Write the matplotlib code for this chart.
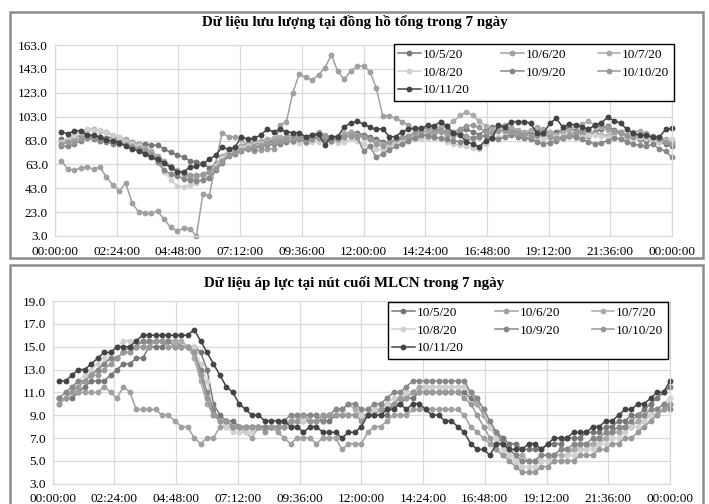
import matplotlib
matplotlib.use("Agg")
import matplotlib.pyplot as plt
from matplotlib.patches import Rectangle
import numpy as np

plt.rcParams['font.family'] = ['Liberation Serif', 'DejaVu Serif']

# 15-minute readings, 00:15 .. 24:00
days = ["10/5/20", "10/6/20", "10/7/20", "10/8/20", "10/9/20", "10/10/20", "10/11/20"]
colors = ["#777777", "#a0a0a0", "#aaaaaa", "#d0d0d0", "#888888", "#999999", "#444444"]

x_tick_labels = ["00:00:00", "02:24:00", "04:48:00", "07:12:00", "09:36:00", "12:00:00",
                 "14:24:00", "16:48:00", "19:12:00", "21:36:00", "00:00:00"]

# ---- flow at the main meter ----
flow_title = "Dữ liệu lưu lượng tại đồng hồ tổng trong 7 ngày"
flow_ticks = [3.0, 23.0, 43.0, 63.0, 83.0, 103.0, 123.0, 143.0, 163.0]

flow_1005 = [84, 83, 86, 87, 88, 86, 86, 85, 86, 84, 83, 82,
             80, 80, 79, 79, 76, 73, 71, 69, 66, 65, 64, 60,
             63, 68, 72, 75, 78, 80, 81, 80, 82, 83, 85, 86,
             88, 87, 85, 86, 88, 87, 85, 86, 88, 90, 89, 88,
             86, 84, 82, 80, 83, 84, 86, 85, 87, 88, 90, 92,
             90, 88, 91, 93, 90, 88, 92, 94, 95, 93, 92, 90,
             88, 90, 93, 91, 89, 90, 92, 94, 91, 89, 87, 90,
             93, 95, 92, 90, 88, 86, 84, 83, 84, 82, 80, 78]
flow_1006 = [66.1, 58.8, 58.3, 59.7, 61.0, 58.8, 61.0, 52.1, 45.7, 40.9, 47.1, 30.9,
             23.1, 22.5, 22.5, 23.6, 16.9, 10.2, 7.4, 9.4, 9.1, 3.0, 38.2, 36.8,
             64.0, 89.5, 86.0, 86.0, 84.0, 78.0, 74.0, 75.0, 76.0, 76.0, 96.0, 98.8,
             123.0, 138.6, 136.0, 133.5, 138.0, 144.0, 154.6, 141.0, 134.2, 141.2, 145.0, 145.4,
             140.7, 126.7, 103.5, 103.5, 101.6, 98.8, 96.0, 92.0, 90.0, 91.0, 89.0, 90.0,
             88.0, 87.0, 89.0, 87.0, 85.0, 86.0, 88.0, 90.0, 92.0, 90.0, 89.0, 88.0,
             86.0, 85.0, 87.0, 88.0, 86.0, 84.0, 85.0, 87.0, 88.0, 90.0, 91.0, 89.0,
             88.0, 87.0, 89.0, 90.0, 88.0, 86.0, 85.0, 84.0, 86.0, 85.0, 83.0, 82.0]
flow_1007 = [80, 82, 85, 88, 92, 93, 91, 90, 87, 86, 84, 82,
             80, 77, 74, 70, 66, 62, 58, 55, 52, 52, 54, 56,
             62, 70, 74, 76, 78, 80, 82, 83, 84, 85, 86, 86,
             87, 88, 86, 88, 90, 88, 86, 87, 89, 90, 88, 86,
             84, 82, 80, 78, 82, 84, 86, 88, 90, 91, 92, 95,
             95, 99, 104, 107, 104, 99, 95, 93, 95, 96, 94, 92,
             90, 92, 94, 93, 90, 88, 90, 92, 95, 97, 99, 96,
             94, 92, 90, 89, 88, 90, 91, 89, 87, 86, 84, 83]
flow_1008 = [82, 85, 88, 90, 93, 92, 92, 90, 88, 86, 82, 80,
             78, 75, 70, 64, 57, 50, 45, 44, 46, 47, 50, 55,
             62, 68, 72, 74, 77, 78, 79, 80, 80, 81, 82, 82,
             82, 81, 81, 82, 82, 83, 82, 81, 82, 84, 83, 80,
             78, 76, 75, 80, 82, 82, 83, 84, 84, 85, 85, 84,
             82, 80, 79, 78, 77, 76, 80, 84, 86, 87, 88, 87,
             86, 84, 83, 84, 85, 86, 87, 86, 85, 86, 88, 88,
             87, 86, 86, 85, 84, 85, 86, 85, 83, 82, 83, 84]
flow_1009 = [78, 78, 80, 83, 85, 84, 83, 82, 80, 80, 79, 77,
             76, 73, 70, 65, 58, 55, 53, 51, 50, 49, 50, 52,
             58, 64, 70, 72, 74, 76, 76, 78, 79, 80, 80, 82,
             83, 84, 82, 84, 85, 84, 83, 84, 86, 87, 86, 74,
             78, 69, 72, 75, 78, 80, 83, 85, 88, 87, 86, 85,
             84, 83, 82, 83, 85, 86, 87, 85, 84, 86, 88, 86,
             85, 84, 82, 80, 81, 83, 85, 87, 86, 84, 82, 80,
             81, 83, 85, 84, 82, 80, 79, 78, 80, 76, 74, 69]
flow_1010 = [80, 82, 82, 85, 86, 86, 85, 83, 82, 81, 80, 78,
             77, 75, 72, 68, 64, 60, 57, 55, 54, 54, 55, 57,
             60, 66, 71, 73, 75, 77, 78, 79, 80, 82, 83, 84,
             85, 85, 84, 85, 86, 87, 85, 84, 86, 88, 87, 86,
             84, 80, 78, 82, 84, 86, 87, 90, 92, 94, 93, 92,
             91, 90, 93, 95, 96, 94, 90, 89, 91, 92, 90, 89,
             88, 87, 88, 89, 86, 85, 86, 88, 90, 92, 93, 95,
             96, 94, 91, 89, 87, 86, 88, 87, 86, 84, 82, 80]
flow_1011 = [90.4, 88.4, 91.2, 91.2, 87.6, 87.6, 85.6, 83.4, 82.8, 81.2, 78.4, 75.6,
             74.2, 71.7, 68.9, 67.2, 64.4, 60.5, 56.9, 56.9, 60.5, 61.6, 63.3, 67.2,
             70.8, 77.3, 75.6, 77.3, 86.2, 84.0, 84.8, 87.6, 92.3, 90.4, 92.3, 90.4,
             89.5, 89.5, 86.2, 87.6, 88.4, 79.2, 86.2, 86.2, 94.6, 97.4, 99.0, 96.8,
             94.0, 92.3, 92.9, 86.2, 86.2, 90.4, 92.3, 93.2, 93.2, 95.7, 95.1, 98.8,
             95.1, 89.0, 87.6, 82.0, 80.0, 77.8, 82.8, 84.8, 96.0, 94.6, 98.8, 98.8,
             98.8, 97.4, 89.0, 89.0, 97.4, 101.6, 94.0, 96.8, 96.0, 94.6, 92.3, 96.0,
             97.9, 102.4, 99.6, 97.4, 92.3, 89.0, 87.6, 87.6, 85.6, 85.6, 92.3, 93.2]

# ---- pressure at the network end node ----
pres_title = "Dữ liệu áp lực tại nút cuối MLCN trong 7 ngày"
pres_ticks = [3.0, 5.0, 7.0, 9.0, 11.0, 13.0, 15.0, 17.0, 19.0]

pres_1005 = [10.5, 10.5, 10.5, 11, 11.5, 12, 12, 12, 12.5, 13, 13.5, 13.5,
             14, 14, 15, 15, 15, 15.5, 15.5, 15, 15, 15, 14.5, 13,
             10, 9, 8.5, 8.5, 8, 8, 8, 8, 8, 8, 8, 8,
             8, 8.5, 8.5, 8.5, 8.5, 8.5, 8.5, 9, 9, 9, 9, 9,
             9, 9, 9, 9, 10, 10, 10.5, 10.5, 11, 11, 11, 11,
             11, 11, 11, 11, 10.5, 10, 9, 8, 7.5, 7, 6.5, 6.5,
             6, 6, 6, 6, 6.5, 6.5, 6.5, 7, 7, 7, 7.5, 7.5,
             7.5, 8, 8, 8.5, 8.5, 9, 9, 9.5, 10, 10.5, 11, 11.5]
pres_1006 = [10.5, 10.5, 11, 11, 11, 11, 11, 11.5, 11, 10.5, 11.5, 11,
             9.5, 9.5, 9.5, 9.5, 9, 9, 8.5, 8, 8, 7, 6.5, 7,
             7, 8, 8, 8, 8, 7.5, 7, 8, 8, 8, 7.5, 7,
             6.5, 7, 7, 7, 6.5, 7, 7, 7, 6, 6.5, 6.5, 6.5,
             7.5, 8, 8, 8.5, 9, 9, 9, 9.5, 9.5, 9.5, 9.5, 9.5,
             9.5, 9.5, 9.5, 9, 8, 7.5, 7, 6.5, 6, 5.5, 5.5, 5,
             5, 5, 5, 5.5, 5.5, 5.5, 6, 6, 6, 6.5, 6.5, 6.5,
             7, 7, 7.5, 7.5, 8, 8, 8.5, 8.5, 9, 9, 9.5, 10]
pres_1007 = [10, 10.5, 11, 11.5, 12, 12.5, 13, 13.5, 14, 14, 14.5, 14.5,
             15, 15, 15.5, 15.5, 15.5, 15.5, 15.5, 15.5, 15, 14, 12, 10,
             9, 8.5, 8.5, 8, 8, 8, 8, 8, 8, 8, 8, 8,
             8.5, 9, 9, 9, 9, 9, 9, 9.5, 9.5, 10, 9.5, 9,
             9, 9.5, 9.5, 10, 10, 10.5, 11, 11, 11.5, 11.5, 11.5, 11.5,
             11.5, 11.5, 11.5, 11.5, 11, 10, 9, 8, 7, 6.5, 6, 5.5,
             5.5, 5, 5, 5, 5, 5.5, 5.5, 5.5, 6, 6, 6, 6.5,
             6.5, 7, 7.5, 7.5, 8, 8, 8.5, 9, 9, 9.5, 10, 10]
pres_1008 = [10.5, 10.5, 11, 12, 12.5, 13, 13.5, 14, 14.5, 15, 15.5, 15.5,
             15.5, 15.5, 15.5, 15.5, 15.5, 15.5, 15, 15, 15, 15, 13.5, 12,
             9.5, 8.5, 8, 7.5, 7.5, 7.5, 7.5, 8, 8, 8, 8, 8,
             8, 8.5, 8.5, 9, 9, 9, 9, 9, 9.5, 9, 9, 9,
             9.5, 9.5, 10, 10, 10.5, 10.5, 11, 11, 11, 11.5, 11.5, 11.5,
             11.5, 11.5, 11.5, 11.5, 11, 10.5, 9.5, 8, 7, 6, 5.5, 5,
             4.5, 4.5, 4.5, 5, 5, 5, 5, 5.5, 5.5, 6, 6, 6,
             6.5, 6.5, 7, 7, 7.5, 8, 8, 8.5, 9, 9.5, 10, 10.5]
pres_1009 = [10.5, 11, 11.5, 12, 12, 12.5, 13, 13.5, 14, 14, 14.5, 15,
             15, 15.5, 15.5, 15.5, 15.5, 15.5, 15, 15, 15, 14.5, 13, 11,
             9.5, 8.5, 8.5, 8, 8, 8, 8, 8, 8, 8, 8, 8.5,
             9, 9, 9, 9, 9, 8.5, 9, 9.5, 9.5, 10, 10, 9.5,
             9.5, 10, 10, 10.5, 11, 11, 11.5, 12, 12, 12, 12, 12,
             12, 12, 12, 12, 11, 10.5, 9.5, 8.5, 7.5, 6.5, 6, 5.5,
             5, 5, 5, 5.5, 5.5, 5.5, 6, 6, 6.5, 6.5, 6.5, 7,
             7, 7.5, 7.5, 8, 8, 8.5, 9, 9, 9.5, 9.5, 10, 9.5]
pres_1010 = [10, 10.5, 11, 11.5, 12, 12.5, 12.5, 13, 13.5, 14, 14.5, 14.5,
             15, 15, 15, 15.5, 15.5, 15, 15, 15, 15, 14.5, 12.5, 10.5,
             9, 8.5, 8.5, 8, 8, 8, 8, 8, 7.5, 8, 8, 8,
             8.5, 8.5, 9, 8.5, 8.5, 9, 9, 9, 9, 9, 9, 8.5,
             9, 9, 9.5, 9.5, 10, 10.5, 10.5, 11, 11, 11, 11, 11,
             11, 11, 11, 10.5, 10, 9, 8, 7, 6, 5.5, 5, 4.5,
             4, 4, 4, 4.5, 4.5, 5, 5, 5, 5, 5.5, 5.5, 5.5,
             6, 6, 6.5, 6.5, 7, 7, 7.5, 8, 8.5, 9, 9.5, 10]
pres_1011 = [12, 12, 12.5, 13, 13, 13.5, 14, 14.5, 14.5, 15, 15, 15,
             15.5, 16, 16, 16, 16, 16, 16, 16, 16, 16.5, 15.5, 14.5,
             13.5, 12.5, 11.5, 11, 10, 9.5, 9, 9, 8.5, 8.5, 8.5, 8.5,
             8, 8, 7.5, 8, 8, 7.5, 7.5, 7.5, 7, 7.5, 7.5, 8,
             9, 9, 9, 9.5, 9.5, 10, 9.5, 10, 10, 9.5, 9, 9,
             8.5, 8.5, 8, 7.5, 6.5, 6, 6, 5.5, 6.5, 6.5, 6, 6,
             6, 6.5, 6.5, 6, 6.5, 7, 7, 7, 7.5, 7.5, 7.5, 8,
             8, 8.5, 8.5, 9, 9.5, 9.5, 10, 10, 10.5, 11, 11, 12]

flow_series = [flow_1005, flow_1006, flow_1007, flow_1008, flow_1009, flow_1010, flow_1011]
pres_series = [pres_1005, pres_1006, pres_1007, pres_1008, pres_1009, pres_1010, pres_1011]

W, H = 709, 504
fig = plt.figure(figsize=(W / 100, H / 100), dpi=100)
fig.patch.set_facecolor("white")


def px_axes(x0, y0, x1, y1):
    return fig.add_axes([x0 / W, 1 - y1 / H, (x1 - x0) / W, (y1 - y0) / H])


# chart frames
for (bx0, by0, bx1, by1) in [(10, 12, 703, 258), (10, 265, 703, 520)]:
    fig.patches.append(Rectangle((bx0 / W, 1 - by1 / H), (bx1 - bx0) / W, (by1 - by0) / H,
                                 transform=fig.transFigure, fill=False,
                                 edgecolor="#8c8c8c", linewidth=1.8, zorder=0))


def draw_panel(ax, series, ticks, title, title_y, legend_anchor):
    t = [(k + 1) / 96 for k in range(96)]
    handles = []
    for name, col, vals in zip(days, colors, series):
        h, = ax.plot(t, vals, color=col, lw=1.1, marker="o", ms=4.2,
                     markeredgewidth=0, label=name, clip_on=False)
        handles.append(h)
    ax.set_xlim(0, 1)
    ax.set_ylim(ticks[0], ticks[-1])
    ax.set_yticks(ticks)
    ax.set_yticklabels([f"{v:.1f}" for v in ticks])
    ax.set_xticks(np.linspace(0, 1, 11))
    ax.set_xticklabels(x_tick_labels)
    ax.grid(True, color="#d9d9d9", lw=0.9)
    ax.set_axisbelow(True)
    for s in ax.spines.values():
        s.set_color("#d9d9d9")
        s.set_linewidth(0.9)
    ax.tick_params(axis="y", length=0, labelsize=9.5, colors="black", pad=5)
    ax.tick_params(axis="x", length=0, labelsize=9.5, colors="black", pad=7)
    fig.text(0.5, 1 - title_y / H, title, ha="center", va="center",
             fontsize=10.8, fontweight="bold")
    order = [0, 3, 6, 1, 4, 2, 5]
    leg = ax.legend([handles[k] for k in order], [days[k] for k in order],
                    ncol=3, loc="upper right",
                    bbox_to_anchor=(legend_anchor[0] / W, 1 - legend_anchor[1] / H),
                    bbox_transform=fig.transFigure,
                    frameon=True, fancybox=False, edgecolor="black", framealpha=1,
                    fontsize=9.5, handlelength=1.7, handletextpad=0.15,
                    columnspacing=2.4, borderpad=0.35, labelspacing=0.42,
                    borderaxespad=0)
    leg.get_frame().set_linewidth(1.0)
    leg.set_zorder(10)


ax1 = px_axes(55, 45, 672, 236)
draw_panel(ax1, flow_series, flow_ticks, flow_title, 22, (674, 44))

ax2 = px_axes(52.7, 301, 670, 483.7)
draw_panel(ax2, pres_series, pres_ticks, pres_title, 283, (668, 302))

fig.savefig("out.png", dpi=100, facecolor="white")
